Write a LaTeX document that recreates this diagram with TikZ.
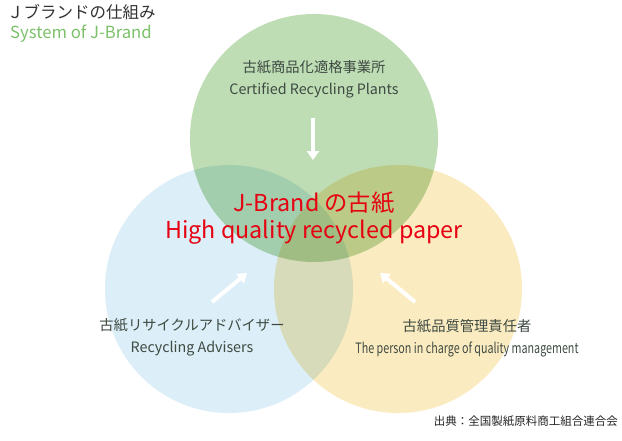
\documentclass[tikz,border=0pt]{standalone}
\usepackage{fontspec}
\setmainfont{Noto Sans CJK JP}
\usetikzlibrary{arrows.meta}
\definecolor{cgreen}{HTML}{BEDDB4}
\definecolor{cblue}{HTML}{DCEEF7}
\definecolor{cyellow}{HTML}{FBEBC0}
\definecolor{txt}{HTML}{3E4A42}
\definecolor{jred}{HTML}{E60012}
\definecolor{ttlgreen}{HTML}{7CC16A}
\tikzset{
  circ/.style={blend mode=multiply},
  lbl/.style={text=txt, font=\fontsize{14.3}{16}\selectfont, inner sep=0pt, anchor=center},
  redlbl/.style={text=jred, font=\fontsize{23.3}{26}\selectfont, inner sep=0pt, anchor=center},
  warrow/.style={white, line width=4pt, -{Triangle[width=12pt,length=9pt]}}
}
\begin{document}
\begin{tikzpicture}[x=1pt,y=-1pt]
\useasboundingbox (0,0) rectangle (622,440);
\fill[white] (0,0) rectangle (622,440);
% circles
\fill[cgreen,circ] (314,138) circle[radius=124];
\fill[cblue,circ] (229,289) circle[radius=124];
\fill[cyellow,circ] (398,289) circle[radius=124];
% title
\node[anchor=west, inner sep=0pt, text=black!80, font=\fontsize{16.5}{18}\selectfont] (title) at (7,12) {Ｊブランドの仕組み};
\node[anchor=west, inner sep=0pt, text=ttlgreen, font=\fontsize{16.7}{18}\selectfont] (subtitle) at (10,34) {System of J-Brand};
% top
\node[lbl] (tja) at (314,67) {古紙商品化適格事業所};
\node[lbl] (ten) at (314,90) {Certified Recycling Plants};
% left
\node[lbl] (lja) at (192,325) {古紙リサイクルアドバイザー};
\node[lbl] (len) at (192,349) {Recycling Advisers};
% right
\node[lbl] (rja) at (467,326) {古紙品質管理責任者};
\node[lbl] (ren) at (467,349) {\scalebox{0.75}[1]{The person in charge of quality management}};
% center
\node[redlbl] (cja) at (314,203) {J-Brand の古紙};
\node[redlbl] (cen) at (314,232) {High quality recycled paper};
% arrows
\coordinate (ta) at (313,118);
\coordinate (tb) at (313,160);
\coordinate (la) at (212,302);
\coordinate (lb) at (247,273);
\coordinate (ra) at (415,302);
\coordinate (rb) at (380,273);
\draw[warrow] (ta) -- (tb);
\draw[warrow] (la) -- (lb);
\draw[warrow] (ra) -- (rb);
% source
\node[anchor=east, inner sep=0pt, text=black!85, font=\fontsize{11.5}{13}\selectfont] (src) at (618,421) {出典：全国製紙原料商工組合連合会};
\end{tikzpicture}
\end{document}
